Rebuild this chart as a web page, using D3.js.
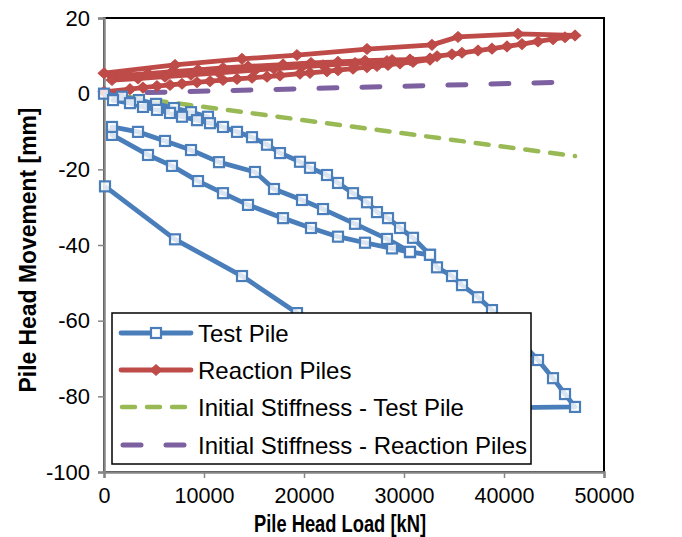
<!DOCTYPE html>
<html>
<head>
<meta charset="utf-8">
<script src="https://cdn.jsdelivr.net/npm/d3@7"></script>
<style>
  html, body { margin: 0; padding: 0; background: #fff; }
  svg { display: block; }
  text { font-family: "Liberation Sans", Arial, sans-serif; }
</style>
</head>
<body>
<svg id="chart" width="682" height="537"></svg>
<script>
// ---------------- DATA ----------------
const xTicks = [0, 10000, 20000, 30000, 40000, 50000];
const yTicks = [20, 0, -20, -40, -60, -80, -100];

// Test pile (load kN, movement mm), in test order
const testPileLoad = [0, 1800, 3500, 5200, 7000, 8700, 10400,
  900, 2600, 3900, 5300, 6600, 7800, 9300, 10600, 11900, 13300, 14800, 16300, 17600, 19600, 20600, 22300, 23400, 24900, 26300, 27300, 28400, 29600, 30900, 32600,
  30600, 28800, 26100, 23400, 20700, 17900, 14400, 11900, 9400, 6800, 4400, 800,
  800, 3400, 6100, 8700, 11500, 15100, 17000, 19800, 21900, 25100, 28300, 30600, 32600,
  33300, 34800, 35800, 37400, 38800, 43400, 44900, 46100, 47100,
  41400, 35400, 32900, 19300, 13800, 7100, 100];
const testPileMove = [0, -0.8, -1.7, -2.7, -3.8, -4.9, -6.1,
  -1.7, -2.5, -3.5, -4.3, -5.1, -6.1, -7.0, -7.8, -8.8, -10.1, -11.5, -13.5, -15.7, -18.0, -19.6, -21.5, -23.6, -26.3, -28.7, -31.3, -32.9, -35.5, -38.1, -42.6,
  -41.9, -40.9, -39.4, -37.8, -35.5, -32.9, -29.4, -26.3, -23.1, -19.1, -16.2, -10.9,
  -8.8, -10.1, -12.5, -14.9, -18.1, -20.7, -25.2, -28.1, -30.5, -34.4, -38.4, -41.8, -42.6,
  -45.9, -48.2, -50.6, -53.8, -57.2, -70.4, -75.2, -79.4, -82.8,
  -83.0, -83.0, -82.8, -58.0, -48.2, -38.5, -24.5];

// Reaction piles (load kN, movement mm)
const reactionLoad = [0, 2600, 3900, 5300, 6600, 7800, 9300, 10600, 11900, 13300, 14800, 16300, 17600, 19600, 20600, 22300, 23400, 24900, 26300, 27300, 28400, 29600, 30900, 32600,
  30600, 28800, 26100, 23400, 20700, 17900, 14400, 11900, 9400, 6800, 4400, 800,
  800, 3400, 6100, 8700, 11500, 15100, 17000, 19800, 21900, 25100, 28300, 30600, 32600,
  33300, 34800, 35800, 37400, 38800, 40300, 41800, 43400, 44900, 46100, 47100,
  41400, 35400, 32800, 26300, 19300, 13800, 7100, 0];
const reactionMove = [0.5, 1.2, 1.6, 2.0, 2.3, 2.6, 3.0, 3.3, 3.6, 3.9, 4.2, 4.5, 4.8, 5.3, 5.5, 5.9, 6.2, 6.6, 7.0, 7.3, 7.6, 8.0, 8.4, 9.0,
  9.0, 8.9, 8.7, 8.4, 8.1, 7.7, 7.2, 6.8, 6.3, 5.8, 5.3, 4.6,
  3.6, 4.0, 4.5, 5.0, 5.5, 6.2, 6.6, 7.1, 7.5, 8.1, 8.6, 8.9, 9.3,
  9.9, 10.4, 10.8, 11.4, 11.9, 12.5, 13.1, 13.8, 14.4, 14.9, 15.4,
  15.8, 15.0, 12.9, 11.8, 10.2, 9.2, 7.6, 5.4];

// Initial stiffness lines
const stiffTestLoad = [0, 47100];
const stiffTestMove = [0, -16.5];
const stiffReacLoad = [0, 47100];
const stiffReacMove = [0, 3.1];

const legendLabels = ["Test Pile", "Reaction Piles", "Initial Stiffness - Test Pile", "Initial Stiffness - Reaction Piles"];

// ---------------- STYLE ----------------
const C_BLUE = "#4A7EBB", C_RED = "#BE4B48", C_GREEN = "#98B954", C_PURPLE = "#7D60A0";
const FONT = "'Liberation Sans', Arial, sans-serif";

const svg = d3.select("#chart");
const m = { left: 104, right: 604, top: 18, bottom: 472 };

const x = d3.scaleLinear().domain([0, 50000]).range([m.left, m.right]);
const y = d3.scaleLinear().domain([-100, 20]).range([m.bottom, m.top]);

// plot frame
svg.append("rect")
  .attr("x", m.left).attr("y", m.top)
  .attr("width", m.right - m.left).attr("height", m.bottom - m.top)
  .attr("fill", "none").attr("stroke", "#000").attr("stroke-width", 2);

// axes
const yAxis = d3.axisLeft(y).tickValues(yTicks).tickSize(6).tickPadding(8).tickFormat(d => String(d));
const gy = svg.append("g").attr("transform", `translate(${m.left},0)`).call(yAxis);
gy.select(".domain").attr("stroke", "#868686").attr("stroke-width", 2.5);
gy.selectAll(".tick line").attr("stroke", "#868686").attr("stroke-width", 1.5);
gy.selectAll(".tick text").attr("font-size", 22).attr("fill", "#000").style("font-family", FONT);

const xAxis = d3.axisBottom(x).tickValues(xTicks).tickSize(6).tickPadding(10).tickFormat(d => String(d));
const gx = svg.append("g").attr("transform", `translate(0,${m.bottom})`).call(xAxis);
gx.select(".domain").attr("stroke", "#868686").attr("stroke-width", 2.5);
gx.selectAll(".tick line").attr("stroke", "#868686").attr("stroke-width", 1.5);
gx.selectAll(".tick text").attr("font-size", 21.5).attr("fill", "#000").style("font-family", FONT);

// axis titles
svg.append("text")
  .attr("x", 340).attr("y", 532)
  .attr("text-anchor", "middle").attr("font-size", 23).attr("font-weight", "bold")
  .attr("textLength", 172).attr("lengthAdjust", "spacingAndGlyphs")
  .text("Pile Head Load [kN]");
svg.append("text")
  .attr("transform", "translate(36,250) rotate(-90)")
  .attr("text-anchor", "middle").attr("font-size", 23).attr("font-weight", "bold")
  .attr("textLength", 285).attr("lengthAdjust", "spacingAndGlyphs")
  .text("Pile Head Movement [mm]");

const line = d3.line().x(d => x(d[0])).y(d => y(d[1]));
const zip = (a, b) => a.map((v, i) => [v, b[i]]);

const plot = svg.append("g");

// stiffness lines
plot.append("path").datum(zip(stiffTestLoad, stiffTestMove))
  .attr("d", line).attr("fill", "none").attr("stroke", C_GREEN)
  .attr("stroke-width", 4.5).attr("stroke-linecap", "round").attr("stroke-dasharray", "13,12");
plot.append("path").datum(zip(stiffReacLoad, stiffReacMove))
  .attr("d", line).attr("fill", "none").attr("stroke", C_PURPLE)
  .attr("stroke-width", 5).attr("stroke-linecap", "round").attr("stroke-dasharray", "18,25");

// reaction piles
const reac = zip(reactionLoad, reactionMove);
plot.append("path").datum(reac).attr("d", line).attr("fill", "none")
  .attr("stroke", C_RED).attr("stroke-width", 4.8).attr("stroke-linejoin", "round");
const diamond = d3.symbol().type(d3.symbolDiamond2).size(72);
plot.selectAll(".rd").data(reac).join("path")
  .attr("transform", d => `translate(${x(d[0])},${y(d[1])}) scale(1.1,1)`)
  .attr("d", diamond).attr("fill", C_RED).attr("stroke", C_RED).attr("stroke-width", 1);

// test pile
const tp = zip(testPileLoad, testPileMove);
plot.append("path").datum(tp).attr("d", line).attr("fill", "none")
  .attr("stroke", C_BLUE).attr("stroke-width", 4.8).attr("stroke-linejoin", "round");
plot.selectAll(".ts").data(tp).join("rect")
  .attr("x", d => x(d[0]) - 5).attr("y", d => y(d[1]) - 5)
  .attr("width", 10).attr("height", 10)
  .attr("fill", "#fff").attr("fill-opacity", 0.8).attr("stroke", C_BLUE).attr("stroke-width", 2.2);

// legend
const lg = svg.append("g");
lg.append("rect").attr("x", 112).attr("y", 313).attr("width", 419).attr("height", 151)
  .attr("fill", "#fff").attr("stroke", "#000").attr("stroke-width", 1.5);
const rowsY = [333, 370, 407, 445];
lg.append("line").attr("x1", 121).attr("x2", 191).attr("y1", rowsY[0]).attr("y2", rowsY[0])
  .attr("stroke", C_BLUE).attr("stroke-width", 4.8).attr("stroke-linecap", "round");
lg.append("rect").attr("x", 156 - 5).attr("y", rowsY[0] - 5).attr("width", 10).attr("height", 10)
  .attr("fill", "#fff").attr("stroke", C_BLUE).attr("stroke-width", 2.2);
lg.append("line").attr("x1", 121).attr("x2", 191).attr("y1", rowsY[1]).attr("y2", rowsY[1])
  .attr("stroke", C_RED).attr("stroke-width", 4.8).attr("stroke-linecap", "round");
lg.append("path").attr("transform", `translate(156,${rowsY[1]}) scale(1.1,1)`).attr("d", diamond)
  .attr("fill", C_RED).attr("stroke", C_RED);
lg.append("line").attr("x1", 122).attr("x2", 190).attr("y1", rowsY[2]).attr("y2", rowsY[2])
  .attr("stroke", C_GREEN).attr("stroke-width", 4.5).attr("stroke-linecap", "round").attr("stroke-dasharray", "13,12");
lg.append("line").attr("x1", 123).attr("x2", 190).attr("y1", rowsY[3]).attr("y2", rowsY[3])
  .attr("stroke", C_PURPLE).attr("stroke-width", 5).attr("stroke-linecap", "round").attr("stroke-dasharray", "18,25");
lg.selectAll(".lt").data(legendLabels).join("text")
  .attr("x", 198).attr("y", (d, i) => rowsY[i] + 8.5)
  .attr("font-size", 24).attr("fill", "#000").text(d => d);
</script>
</body>
</html>
